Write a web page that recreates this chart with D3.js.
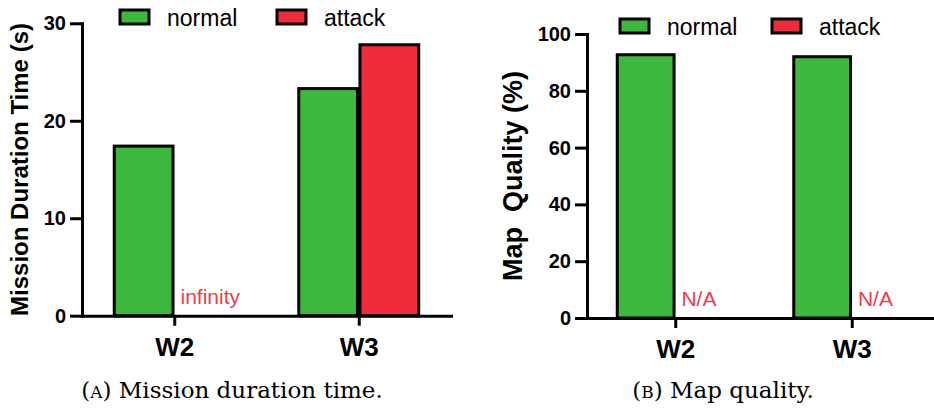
<html>
  <head>
    <meta content="text/html; charset=utf-8" http-equiv="Content-Type">
    <style>
      body { margin: 0; background: white; }
      .axis path, .axis line { stroke: black; stroke-width: 3; }
      .axis text { font-family: 'Liberation Sans', Arial, sans-serif; font-weight: bold; fill: black; }
    </style>
  </head>
  <body>
    <svg id="svg"></svg>

<script src="https://d3js.org/d3.v7.min.js"></script>
<script>

// data
const groups = ["W2", "W3"];
const seriesNames = ["normal", "attack"];
const durationNormal = [17.4, 23.3];
const durationAttack = [null, 27.8];
const qualityNormal = [92.7, 92.0];
const qualityAttack = [null, null];
const durationTicks = [0, 10, 20, 30];
const qualityTicks = [0, 20, 40, 60, 80, 100];

const green = "#3cb93c";
const red = "#ee2c3c";

const svg = d3.select("#svg")
    .attr("width", 934)
    .attr("height", 409);

function panel(opts) {
  const g = svg.append("g");

  const yScale = d3.scaleLinear()
      .domain(opts.yDomain)
      .range([opts.y0, opts.y1]);

  const xScale = d3.scalePoint()
      .domain(groups)
      .range([opts.x0, opts.x1])
      .padding(0.5);

  const inner = d3.scaleBand()
      .domain(seriesNames)
      .range([-opts.half, opts.half])
      .paddingInner(0.04);

  const color = d3.scaleOrdinal().domain(seriesNames).range([green, red]);

  // bars
  const rows = [];
  groups.forEach(function(grp, i) {
    rows.push({ group: grp, series: "normal", value: opts.normal[i] });
    rows.push({ group: grp, series: "attack", value: opts.attack[i] });
  });

  g.selectAll(".bar")
      .data(rows.filter(function(d) { return d.value != null; }))
      .enter().append("rect")
      .attr("x", function(d) { return xScale(d.group) + inner(d.series); })
      .attr("y", function(d) { return yScale(d.value); })
      .attr("width", inner.bandwidth())
      .attr("height", function(d) { return yScale(0) - yScale(d.value); })
      .attr("fill", function(d) { return color(d.series); })
      .attr("stroke", "black")
      .attr("stroke-width", 3);

  // missing values get a red note
  g.selectAll(".note")
      .data(rows.filter(function(d) { return d.value == null; }))
      .enter().append("text")
      .attr("x", function(d) { return xScale(d.group) + inner(d.series) + 5; })
      .attr("y", yScale(0) - 12)
      .attr("fill", "#ee3c48")
      .style("font-family", "'Liberation Sans', Arial, sans-serif")
      .style("font-size", "21px")
      .text(opts.note);

  // axes
  g.append("g")
      .attr("class", "axis")
      .attr("transform", `translate(${opts.x0}, 0)`)
      .call(d3.axisLeft(yScale).tickValues(opts.ticks).tickSize(12).tickSizeOuter(0).tickPadding(4))
      .selectAll("text").style("font-size", "20px");

  g.append("g")
      .attr("class", "axis")
      .attr("transform", `translate(0, ${opts.y0})`)
      .call(d3.axisBottom(xScale).tickSize(10).tickSizeOuter(0).tickPadding(12))
      .selectAll("text").style("font-size", "26px");

  g.selectAll(".axis path").attr("stroke-linecap", "square");

  // y label
  g.append("text")
      .attr("transform", `translate(${opts.labelX}, ${(opts.y0 + opts.y1) / 2}) rotate(-90)`)
      .attr("text-anchor", "middle")
      .attr("dy", "0.35em")
      .style("white-space", "pre")
      .style("font-family", "'Liberation Sans', Arial, sans-serif")
      .style("font-weight", "bold")
      .style("font-size", opts.labelSize + "px")
      .text(opts.label);

  // legend
  const leg = g.selectAll(".leg")
      .data(seriesNames)
      .enter().append("g")
      .attr("transform", function(d, i) { return `translate(${opts.legX[i]}, ${opts.legY})`; });
  leg.append("rect")
      .attr("x", 0).attr("y", -16)
      .attr("width", 29).attr("height", 14)
      .attr("fill", function(d) { return color(d); })
      .attr("stroke", "black")
      .attr("stroke-width", 3);
  leg.append("text")
      .attr("x", 47)
      .attr("y", 0)
      .style("font-family", "'Liberation Sans', Arial, sans-serif")
      .style("font-size", "23px")
      .text(function(d) { return d; });

  // caption
  const cap = g.append("text")
      .attr("x", opts.capX)
      .attr("y", 398)
      .attr("text-anchor", "middle")
      .style("font-family", "'DejaVu Serif', 'Liberation Serif', serif")
      .style("font-size", "23px");
  cap.append("tspan").text("(");
  cap.append("tspan").style("font-size", "17px").text(opts.capLetter);
  cap.append("tspan").text(") " + opts.caption);
}

panel({
  yDomain: [0, 30], y0: 315.7, y1: 23.3, ticks: durationTicks,
  x0: 82, x1: 451, half: 60,
  normal: durationNormal, attack: durationAttack, note: "infinity",
  label: "Mission Duration Time (s)", labelX: 20, labelSize: 24,
  legX: [120, 277], legY: 26,
  capX: 232, capLetter: "A", caption: "Mission duration time."
});

panel({
  yDomain: [0, 100], y0: 318, y1: 34, ticks: qualityTicks,
  x0: 587, x1: 940, half: 58,
  normal: qualityNormal, attack: qualityAttack, note: "N/A",
  label: "Map  Quality (%)", labelX: 513, labelSize: 27,
  legX: [620, 772], legY: 35,
  capX: 723, capLetter: "B", caption: "Map quality."
});

</script>
</body>
</html>
